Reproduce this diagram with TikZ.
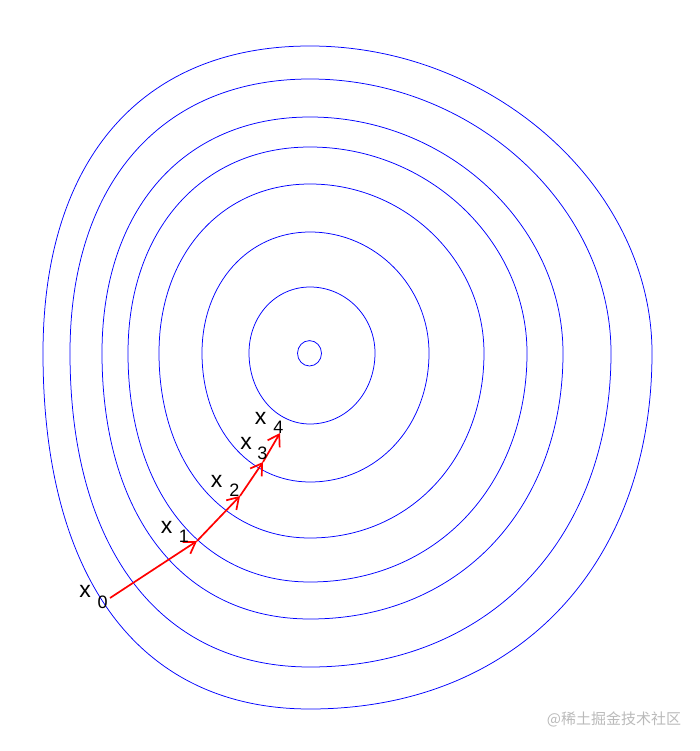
\documentclass[tikz,border=0pt]{standalone}
\usepackage{fontspec}
\setmainfont{Liberation Sans}
\newfontfamily\cjkfont{Noto Sans CJK SC}
\usetikzlibrary{arrows.meta}
\tikzset{
  contour/.style={draw=blue, line width=0.75pt},
  gdstep/.style={draw=red, line width=1.7pt, -{Straight Barb[length=11pt,width=14pt,line width=1.7pt]}},
  xlab/.style={inner sep=0pt, font=\fontsize{23}{23}\selectfont},
  sublab/.style={inner sep=0pt, font=\fontsize{18}{18}\selectfont},
}
% ring: #1=R #2=T #3=L #4=B  #5=kUR #6=kUL #7=kLL #8=kLR
\newcommand{\myring}[8]{%
  \draw[contour] (310+#1,353) .. controls (310+#1,353-#5*#2) and (310+#5*#1,353-#2) .. (310,353-#2)
   .. controls (310-#6*#3,353-#2) and (310-#3,353-#6*#2) .. (310-#3,353)
   .. controls (310-#3,353+#7*#4) and (310-#7*#3,353+#4) .. (310,353+#4)
   .. controls (310+#8*#1,353+#4) and (310+#1,353+#8*#4) .. cycle;}
\begin{document}
\begin{tikzpicture}[x=1pt,y=-1pt]
\useasboundingbox (0,0) rectangle (700,751);
% contours
\draw[contour] (309.5,353.3) ellipse [x radius=12, y radius=12.7];
\myring{65}{66}{61}{71}{0.552}{0.563}{0.563}{0.560}
\myring{119}{121}{108}{129}{0.550}{0.574}{0.576}{0.567}
\myring{174}{169}{151}{185}{0.547}{0.585}{0.588}{0.573}
\myring{217}{206}{182}{229}{0.545}{0.596}{0.600}{0.580}
\myring{253}{236}{208}{266}{0.542}{0.608}{0.612}{0.587}
\myring{301}{274}{240}{314}{0.540}{0.619}{0.624}{0.593}
\myring{342}{307}{267}{356}{0.537}{0.630}{0.636}{0.600}
% iterates
\coordinate (p0) at (110,598);
\coordinate (p1) at (197,541);
\coordinate (p2) at (240,496);
\coordinate (p3) at (263,462);
\coordinate (p4) at (280,433);
\draw[gdstep] (p0) -- (p1);
\draw[gdstep] (p1) -- (p2);
\draw[gdstep] (p2) -- (p3);
\draw[gdstep] (p3) -- (p4);
% labels
\node[xlab] (x0) at (85,591) {x};   \node[sublab] (s0) at (102.7,602.3) {0};
\node[xlab] (x1) at (166.7,527) {x}; \node[sublab] (s1) at (184,536.7) {1};
\node[xlab] (x2) at (216.7,481) {x}; \node[sublab] (s2) at (234.3,490) {2};
\node[xlab] (x3) at (246,443.5) {x}; \node[sublab] (s3) at (262.3,453.3) {3};
\node[xlab] (x4) at (260.7,418.5) {x}; \node[sublab] (s4) at (278.3,427.7) {4};
% watermark
\node[inner sep=0pt, text=black!27, font=\cjkfont\fontsize{15}{15}\selectfont] (wm) at (614,719) {@稀土掘金技术社区};
\end{tikzpicture}
\end{document}
